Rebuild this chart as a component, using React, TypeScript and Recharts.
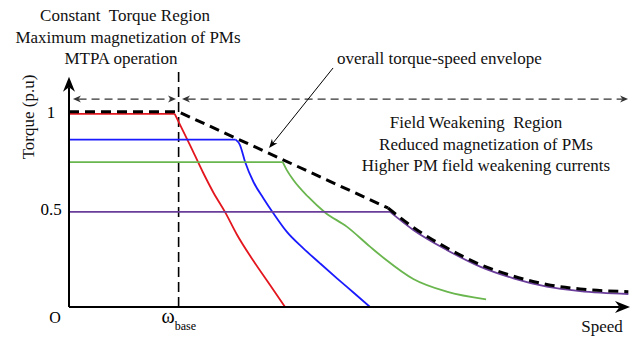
import { LineChart, Line, XAxis, YAxis, ReferenceLine } from "recharts";

const FONT = '"Liberation Serif", "Times New Roman", serif';

// speed is in units of base speed, torque in p.u.
// index 1 of every curve is the corner where the flat part ends
const speedTicks = [0, 1];
const torqueTicks = [0.5, 1];

const redSpeed = [0, 0.964, 1.104, 1.225, 1.317, 1.423, 1.53, 1.682, 1.834, 1.971];
const redTorque = [0.995, 0.995, 0.834, 0.69, 0.59, 0.49, 0.375, 0.238, 0.113, 0];

const blueSpeed = [0, 1.521, 1.56, 1.606, 1.682, 1.773, 1.864, 1.986, 2.138, 2.29, 2.45, 2.6, 2.746];
const blueTorque = [0.862, 0.862, 0.834, 0.748, 0.645, 0.56, 0.483, 0.388, 0.302, 0.225, 0.145, 0.072, 0];

const greenSpeed = [0, 1.95, 1.986, 2.047, 2.181, 2.336, 2.534, 2.746, 2.883, 3.141, 3.446, 3.805];
const greenTorque = [0.746, 0.746, 0.706, 0.654, 0.568, 0.487, 0.414, 0.311, 0.247, 0.144, 0.079, 0.039];

const purpleSpeed = [0, 2.929, 3.141, 3.446, 3.75, 4.054, 4.359, 4.662, 5.103];
const purpleTorque = [0.49, 0.49, 0.397, 0.294, 0.208, 0.148, 0.105, 0.082, 0.067];

// overall envelope: flat, straight slope, then the field weakening curve
const envelopeSpeed = [0, 1.0, 2.91, 3.141, 3.446, 3.75, 4.054, 4.359, 4.662, 5.103];
const envelopeTorque = [1.005, 1.005, 0.51, 0.41, 0.305, 0.219, 0.159, 0.116, 0.093, 0.079];
const envelopeBend = 2; // index where the curved part starts

const toRows = (s: number[], t: number[]) => s.map((v, i) => ({ s: v, t: t[i] }));

const curves = [
  { name: "red", rows: toRows(redSpeed, redTorque), color: "#e3161e" },
  { name: "blue", rows: toRows(blueSpeed, blueTorque), color: "#1a1aff" },
  { name: "green", rows: toRows(greenSpeed, greenTorque), color: "#6ab64e" },
  { name: "purple", rows: toRows(purpleSpeed, purpleTorque), color: "#6a3d9a" },
];
const envelopeRows = toRows(envelopeSpeed, envelopeTorque);

// line with arrow heads, drawn from the reference line end points
function arrowLine(
  p: any,
  opts: { start?: boolean; end?: boolean; len: number; half: number; color: string; width: number; dash?: string }
) {
  const { x1, y1, x2, y2 } = p;
  const dx = x2 - x1;
  const dy = y2 - y1;
  const d = Math.sqrt(dx * dx + dy * dy) || 1;
  const ux = dx / d;
  const uy = dy / d;
  const nx = -uy;
  const ny = ux;
  const head = (tx: number, ty: number, sx: number, sy: number) => {
    const bx = tx - sx * opts.len;
    const by = ty - sy * opts.len;
    const mx = tx - sx * opts.len * 0.7;
    const my = ty - sy * opts.len * 0.7;
    return `${tx},${ty} ${bx + nx * opts.half},${by + ny * opts.half} ${mx},${my} ${bx - nx * opts.half},${by - ny * opts.half}`;
  };
  const a = opts.start ? opts.len * 0.7 : 0;
  const b = opts.end ? opts.len * 0.7 : 0;
  return (
    <g>
      <line
        x1={x1 + ux * a}
        y1={y1 + uy * a}
        x2={x2 - ux * b}
        y2={y2 - uy * b}
        stroke={opts.color}
        strokeWidth={opts.width}
        strokeDasharray={opts.dash}
      />
      {opts.start && <polygon points={head(x1, y1, -ux, -uy)} fill={opts.color} />}
      {opts.end && <polygon points={head(x2, y2, ux, uy)} fill={opts.color} />}
    </g>
  );
}

function SpeedTick(props: any) {
  const { x, payload } = props;
  if (payload.value === 0) {
    return (
      <text x={x - 14} y={323} textAnchor="middle" fontFamily={FONT} fontSize={16} fill="#000">
        O
      </text>
    );
  }
  return (
    <text x={x - 17} y={323} fontFamily={FONT} fill="#000">
      <tspan fontSize={20}>ω</tspan>
      <tspan fontSize={12} dy={7}>
        base
      </tspan>
    </text>
  );
}

function TorqueTick(props: any) {
  const { y, payload } = props;
  return (
    <text x={51} y={y} dy={5} textAnchor="middle" fontFamily={FONT} fontSize={17} fill="#000">
      {payload.value}
    </text>
  );
}

const textStyle = { fontFamily: FONT, fontSize: 17, fill: "#111" };

export default function App() {
  return (
    <div style={{ position: "absolute", left: 0, top: 0, background: "#fff" }}>
      <LineChart width={642} height={337} margin={{ top: 74, right: 3, bottom: 0, left: 9 }}>
        <XAxis
          dataKey="s"
          type="number"
          domain={[0, 5.2]}
          ticks={speedTicks}
          axisLine={false}
          tickLine={false}
          height={30}
          tick={<SpeedTick />}
          allowDataOverflow
        />
        <YAxis
          dataKey="t"
          type="number"
          domain={[0, 1.2]}
          ticks={torqueTicks}
          axisLine={false}
          tickLine={false}
          width={60}
          tick={<TorqueTick />}
          allowDataOverflow
        />

        {/* base speed marker */}
        <ReferenceLine
          segment={[{ x: 1, y: 0 }, { x: 1, y: 1.22 }]}
          ifOverflow="visible"
          shape={(p: any) => arrowLine(p, { len: 0, half: 0, color: "#000", width: 1.6, dash: "10 5" })}
        />

        {/* region arrows */}
        <ReferenceLine
          segment={[{ x: 0.036, y: 1.071 }, { x: 0.976, y: 1.071 }]}
          ifOverflow="visible"
          shape={(p: any) =>
            arrowLine(p, { start: true, end: true, len: 8, half: 3.5, color: "#333", width: 1.2, dash: "8 5" })
          }
        />
        <ReferenceLine
          segment={[{ x: 1.031, y: 1.071 }, { x: 5.1, y: 1.071 }]}
          ifOverflow="visible"
          shape={(p: any) =>
            arrowLine(p, { start: true, end: true, len: 8, half: 3.5, color: "#333", width: 1.2, dash: "8 5" })
          }
        />

        {curves.map((c) => [
          <Line
            key={c.name + "-flat"}
            data={c.rows.slice(0, 2)}
            dataKey="t"
            type="linear"
            stroke={c.color}
            strokeWidth={1.8}
            dot={false}
            isAnimationActive={false}
          />,
          <Line
            key={c.name + "-fall"}
            data={c.rows.slice(1)}
            dataKey="t"
            type="monotone"
            stroke={c.color}
            strokeWidth={1.8}
            dot={false}
            isAnimationActive={false}
          />,
        ])}
        <Line
          data={envelopeRows.slice(0, envelopeBend + 1)}
          dataKey="t"
          type="linear"
          stroke="#000"
          strokeWidth={3}
          strokeDasharray="10 6"
          dot={false}
          isAnimationActive={false}
        />
        <Line
          data={envelopeRows.slice(envelopeBend)}
          dataKey="t"
          type="monotone"
          stroke="#000"
          strokeWidth={3}
          strokeDasharray="10 6"
          dot={false}
          isAnimationActive={false}
        />

        {/* axes with arrows */}
        <ReferenceLine
          segment={[{ x: 0, y: 0 }, { x: 5.118, y: 0 }]}
          ifOverflow="visible"
          shape={(p: any) => arrowLine(p, { end: true, len: 15, half: 6, color: "#000", width: 2 })}
        />
        <ReferenceLine
          segment={[{ x: 0, y: 0 }, { x: 0, y: 1.186 }]}
          ifOverflow="visible"
          shape={(p: any) => arrowLine(p, { end: true, len: 15, half: 6, color: "#000", width: 2 })}
        />

        {/* envelope pointer */}
        <ReferenceLine
          segment={[{ x: 2.409, y: 1.231 }, { x: 1.825, y: 0.819 }]}
          ifOverflow="visible"
          shape={(p: any) => arrowLine(p, { end: true, len: 9, half: 3.5, color: "#000", width: 1 })}
        />

        <g>
          <text x={28} y={117} transform="rotate(-90 28 117)" textAnchor="middle" dy={6} {...textStyle}>
            Torque (p.u)
          </text>
          <text x={602} y={332} textAnchor="middle" {...textStyle}>
            Speed
          </text>
          <text x={125} y={21} textAnchor="middle" {...textStyle}>
            {"Constant\u00a0 Torque Region"}
          </text>
          <text x={128} y={43} textAnchor="middle" {...textStyle}>
            Maximum magnetization of PMs
          </text>
          <text x={121} y={64} textAnchor="middle" {...textStyle}>
            MTPA operation
          </text>
          <text x={337} y={64} {...textStyle}>
            overall torque-speed envelope
          </text>
          <text x={476} y={128} textAnchor="middle" {...textStyle}>
            {"Field Weakening\u00a0 Region"}
          </text>
          <text x={486} y={150} textAnchor="middle" {...textStyle}>
            Reduced magnetization of PMs
          </text>
          <text x={486} y={171} textAnchor="middle" {...textStyle}>
            Higher PM field weakening currents
          </text>
        </g>
      </LineChart>
    </div>
  );
}
